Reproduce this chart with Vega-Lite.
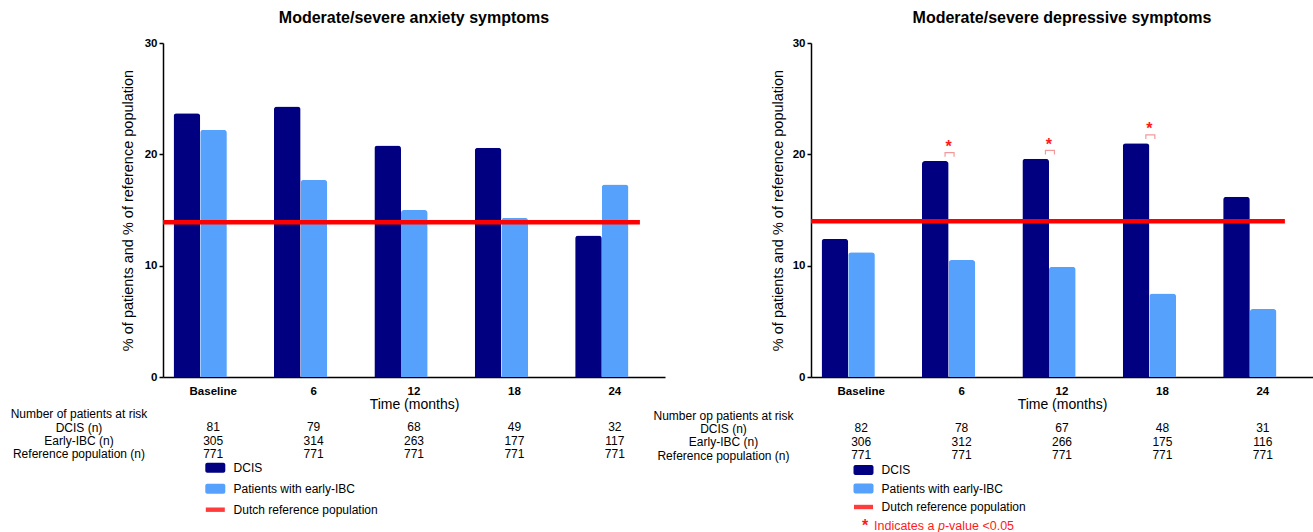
{
  "$schema": "https://vega.github.io/schema/vega-lite/v6.json",
  "padding": {"left": 10, "top": 10, "right": 0, "bottom": 0},
  "config": {
    "font": "Liberation Sans",
    "view": {"stroke": null},
    "axis": {"labelColor": "#000", "titleColor": "#000", "domainColor": "#000", "tickColor": "#000", "grid": false, "labelFont": "Liberation Sans", "titleFont": "Liberation Sans"},
    "title": {"font": "Liberation Sans", "fontSize": 16, "fontWeight": "bold", "color": "#000", "anchor": "middle"}
  },
  "datasets": {
    "anx": [
      {"time": "Baseline", "series": "DCIS", "value": 23.7},
      {"time": "Baseline", "series": "Patients with early-IBC", "value": 22.2},
      {"time": "6", "series": "DCIS", "value": 24.3},
      {"time": "6", "series": "Patients with early-IBC", "value": 17.7},
      {"time": "12", "series": "DCIS", "value": 20.8},
      {"time": "12", "series": "Patients with early-IBC", "value": 15.0},
      {"time": "18", "series": "DCIS", "value": 20.6},
      {"time": "18", "series": "Patients with early-IBC", "value": 14.3},
      {"time": "24", "series": "DCIS", "value": 12.7},
      {"time": "24", "series": "Patients with early-IBC", "value": 17.3}
    ],
    "dep": [
      {"time": "Baseline", "series": "DCIS", "value": 12.4, "sig": false},
      {"time": "Baseline", "series": "Patients with early-IBC", "value": 11.2, "sig": false},
      {"time": "6", "series": "DCIS", "value": 19.4, "sig": true},
      {"time": "6", "series": "Patients with early-IBC", "value": 10.5, "sig": false},
      {"time": "12", "series": "DCIS", "value": 19.6, "sig": true},
      {"time": "12", "series": "Patients with early-IBC", "value": 9.9, "sig": false},
      {"time": "18", "series": "DCIS", "value": 21.0, "sig": true},
      {"time": "18", "series": "Patients with early-IBC", "value": 7.5, "sig": false},
      {"time": "24", "series": "DCIS", "value": 16.2, "sig": false},
      {"time": "24", "series": "Patients with early-IBC", "value": 6.1, "sig": false}
    ],
    "anxN": [
      {"time": "Baseline", "row": "DCIS (n)", "n": 81},
      {"time": "6", "row": "DCIS (n)", "n": 79},
      {"time": "12", "row": "DCIS (n)", "n": 68},
      {"time": "18", "row": "DCIS (n)", "n": 49},
      {"time": "24", "row": "DCIS (n)", "n": 32},
      {"time": "Baseline", "row": "Early-IBC (n)", "n": 305},
      {"time": "6", "row": "Early-IBC (n)", "n": 314},
      {"time": "12", "row": "Early-IBC (n)", "n": 263},
      {"time": "18", "row": "Early-IBC (n)", "n": 177},
      {"time": "24", "row": "Early-IBC (n)", "n": 117},
      {"time": "Baseline", "row": "Reference population (n)", "n": 771},
      {"time": "6", "row": "Reference population (n)", "n": 771},
      {"time": "12", "row": "Reference population (n)", "n": 771},
      {"time": "18", "row": "Reference population (n)", "n": 771},
      {"time": "24", "row": "Reference population (n)", "n": 771}
    ],
    "depN": [
      {"time": "Baseline", "row": "DCIS (n)", "n": 82},
      {"time": "6", "row": "DCIS (n)", "n": 78},
      {"time": "12", "row": "DCIS (n)", "n": 67},
      {"time": "18", "row": "DCIS (n)", "n": 48},
      {"time": "24", "row": "DCIS (n)", "n": 31},
      {"time": "Baseline", "row": "Early-IBC (n)", "n": 306},
      {"time": "6", "row": "Early-IBC (n)", "n": 312},
      {"time": "12", "row": "Early-IBC (n)", "n": 266},
      {"time": "18", "row": "Early-IBC (n)", "n": 175},
      {"time": "24", "row": "Early-IBC (n)", "n": 116},
      {"time": "Baseline", "row": "Reference population (n)", "n": 771},
      {"time": "6", "row": "Reference population (n)", "n": 771},
      {"time": "12", "row": "Reference population (n)", "n": 771},
      {"time": "18", "row": "Reference population (n)", "n": 771},
      {"time": "24", "row": "Reference population (n)", "n": 771}
    ],
    "leg": [
      {"label": "DCIS", "kind": "bar"},
      {"label": "Patients with early-IBC", "kind": "bar"},
      {"label": "Dutch reference population", "kind": "line"}
    ]
  },
  "hconcat": [
    {
      "vconcat": [
        {
          "width": 502,
          "height": 334,
          "title": {"text": "Moderate/severe anxiety symptoms", "offset": 11},
          "layer": [
            {
              "data": {"name": "anx"},
              "mark": {"type": "bar", "cornerRadiusTopLeft": 3, "cornerRadiusTopRight": 3},
              "encoding": {
                "x": {"field": "time", "type": "ordinal", "scale": {"domain": ["Baseline", "6", "12", "18", "24"], "paddingInner": 0, "paddingOuter": 0}, "axis": {"title": "Time (months)", "labelAngle": 0, "ticks": false, "labelFontSize": 11.5, "labelFontWeight": "bold", "labelPadding": 8, "titleFontSize": 14, "titleFontWeight": "normal", "titlePadding": 1, "domainWidth": 1.5}},
                "xOffset": {"field": "series", "type": "nominal", "scale": {"domain": ["DCIS", "Patients with early-IBC"], "paddingInner": 0, "paddingOuter": 0.884, "align": 0.224}},
                "y": {"field": "value", "type": "quantitative", "title": "% of patients and % of reference population", "scale": {"domain": [0, 30]}, "axis": {"values": [0, 10, 20, 30], "titleFontSize": 14.5, "titleFontWeight": "normal", "titlePadding": 9, "labelFontSize": 11.5, "labelFontWeight": "bold", "labelPadding": 2, "tickSize": 4, "tickWidth": 1.5, "domainWidth": 1.5}},
                "color": {"field": "series", "type": "nominal", "scale": {"domain": ["DCIS", "Patients with early-IBC", "Dutch reference population"], "range": ["#000080", "#55a1fc", "#ff0000"]}, "legend": null}
              }
            },
            {
              "data": {"values": [{"ref": 13.9}]},
              "mark": {"type": "rule", "color": "#ff0000", "strokeWidth": 4.5},
              "encoding": {
                "y": {"field": "ref", "type": "quantitative", "title": "% of patients and % of reference population"},
                "x": {"datum": 0, "type": "quantitative", "scale": {"domain": [0, 1], "nice": false}, "axis": null},
                "x2": {"datum": 0.95}
              }
            }
          ],
          "resolve": {"scale": {"x": "independent"}}
        },
        {
          "width": 502,
          "height": 81,
          "data": {"name": "anxN"},
          "mark": {"type": "text", "fontSize": 12, "color": "#000"},
          "encoding": {
            "x": {"field": "time", "type": "ordinal", "scale": {"domain": ["Baseline", "6", "12", "18", "24"], "paddingInner": 0, "paddingOuter": 0}, "axis": null},
            "y": {"field": "row", "type": "ordinal", "scale": {"type": "point", "domain": ["gap1", "gap2", "Number of patients at risk", "DCIS (n)", "Early-IBC (n)", "Reference population (n)"], "padding": 0.516, "align": 0.71}, "axis": {"title": null, "values": ["Number of patients at risk", "DCIS (n)", "Early-IBC (n)", "Reference population (n)"], "domain": false, "ticks": false, "tickSize": 0, "labelAlign": "center", "labelPadding": 84.5, "labelFontSize": 12, "labelFontWeight": "normal"}},
            "text": {"field": "n", "type": "quantitative"}
          }
        },
        {
          "width": 502,
          "height": 60,
          "data": {"name": "leg"},
          "encoding": {
            "y": {"field": "label", "type": "nominal", "scale": {"type": "point", "domain": ["DCIS", "Patients with early-IBC", "Dutch reference population"], "padding": 0.4286, "align": 0.539}, "axis": null}
          },
          "layer": [
            {
              "mark": {"type": "point", "filled": true, "opacity": 1, "size": 400, "strokeWidth": 0},
              "encoding": {
                "x": {"datum": 52.3, "type": "quantitative", "scale": {"domain": [0, 502], "nice": false, "zero": false}, "axis": null},
                "shape": {"field": "kind", "type": "nominal", "scale": {"domain": ["bar", "line"], "range": ["M-0.8,-0.5H0.8A0.2,0.2,0,0,1,1,-0.3V0.3A0.2,0.2,0,0,1,0.8,0.5H-0.8A0.2,0.2,0,0,1,-1,0.3V-0.3A0.2,0.2,0,0,1,-0.8,-0.5Z", "M-0.95,-0.22H0.95V0.22H-0.95Z"]}, "legend": null},
                "color": {"field": "label", "type": "nominal", "scale": {"domain": ["DCIS", "Patients with early-IBC", "Dutch reference population"], "range": ["#000080", "#55a1fc", "#ff3b3b"]}, "legend": null}
              }
            },
            {
              "mark": {"type": "text", "align": "left", "fontSize": 12, "color": "#000"},
              "encoding": {
                "x": {"datum": 70.6, "type": "quantitative"},
                "text": {"field": "label"}
              }
            }
          ]
        }
      ],
      "spacing": 0,
      "bounds": "flush",
      "resolve": {"scale": {"x": "independent", "y": "independent", "color": "independent", "shape": "independent"}}
    },
    {
      "vconcat": [
        {
          "width": 502,
          "height": 334,
          "title": {"text": "Moderate/severe depressive symptoms", "offset": 11},
          "layer": [
            {
              "data": {"name": "dep"},
              "layer": [
                {
                  "mark": {"type": "bar", "cornerRadiusTopLeft": 3, "cornerRadiusTopRight": 3},
                  "encoding": {
                    "x": {"field": "time", "type": "ordinal", "scale": {"domain": ["Baseline", "6", "12", "18", "24"], "paddingInner": 0, "paddingOuter": 0}, "axis": {"title": "Time (months)", "labelAngle": 0, "ticks": false, "labelFontSize": 11.5, "labelFontWeight": "bold", "labelPadding": 8, "titleFontSize": 14, "titleFontWeight": "normal", "titlePadding": 1, "domainWidth": 1.5}},
                    "xOffset": {"field": "series", "type": "nominal", "scale": {"domain": ["DCIS", "Patients with early-IBC"], "paddingInner": 0, "paddingOuter": 0.884, "align": 0.224}},
                    "y": {"field": "value", "type": "quantitative", "title": "% of patients and % of reference population", "scale": {"domain": [0, 30]}, "axis": {"values": [0, 10, 20, 30], "titleFontSize": 14.5, "titleFontWeight": "normal", "titlePadding": 7, "labelFontSize": 11.5, "labelFontWeight": "bold", "labelPadding": 2, "tickSize": 4, "tickWidth": 1.5, "domainWidth": 1.5}},
                    "color": {"field": "series", "type": "nominal", "scale": {"domain": ["DCIS", "Patients with early-IBC", "Dutch reference population"], "range": ["#000080", "#55a1fc", "#ff0000"]}, "legend": null}
                  }
                },
                {
                  "transform": [{"filter": "datum.sig"}],
                  "mark": {"type": "point", "shape": "M-1,0.45V-0.45H1V0.45", "filled": false, "size": 81, "stroke": "#f29a9a", "strokeWidth": 1.2, "opacity": 1, "yOffset": -6.3},
                  "encoding": {
                    "x": {"field": "time", "type": "ordinal", "bandPosition": 0.38},
                    "y": {"field": "value", "type": "quantitative", "title": "% of patients and % of reference population"}
                  }
                },
                {
                  "transform": [{"filter": "datum.sig"}],
                  "mark": {"type": "text", "text": "*", "color": "#ff1a1a", "fontSize": 16, "fontWeight": "bold", "baseline": "alphabetic", "dy": -9},
                  "encoding": {
                    "x": {"field": "time", "type": "ordinal", "bandPosition": 0.37},
                    "y": {"field": "value", "type": "quantitative", "title": "% of patients and % of reference population"}
                  }
                }
              ]
            },
            {
              "data": {"values": [{"ref": 14.0}]},
              "mark": {"type": "rule", "color": "#ff0000", "strokeWidth": 4.5},
              "encoding": {
                "y": {"field": "ref", "type": "quantitative", "title": "% of patients and % of reference population"},
                "x": {"datum": 0, "type": "quantitative", "scale": {"domain": [0, 1], "nice": false}, "axis": null},
                "x2": {"datum": 0.944}
              }
            }
          ],
          "resolve": {"scale": {"x": "independent"}}
        },
        {
          "width": 502,
          "height": 82,
          "data": {"name": "depN"},
          "mark": {"type": "text", "fontSize": 12, "color": "#000"},
          "encoding": {
            "x": {"field": "time", "type": "ordinal", "scale": {"domain": ["Baseline", "6", "12", "18", "24"], "paddingInner": 0, "paddingOuter": 0}, "axis": null},
            "y": {"field": "row", "type": "ordinal", "scale": {"type": "point", "domain": ["gap1", "gap2", "Number op patients at risk", "DCIS (n)", "Early-IBC (n)", "Reference population (n)"], "padding": 0.544, "align": 0.755}, "axis": {"title": null, "values": ["Number op patients at risk", "DCIS (n)", "Early-IBC (n)", "Reference population (n)"], "domain": false, "ticks": false, "tickSize": 0, "labelAlign": "center", "labelPadding": 88, "labelFontSize": 12, "labelFontWeight": "normal"}},
            "text": {"field": "n", "type": "quantitative"}
          }
        },
        {
          "width": 502,
          "height": 80,
          "data": {"name": "leg"},
          "encoding": {
            "y": {"field": "label", "type": "nominal", "scale": {"type": "point", "domain": ["DCIS", "Patients with early-IBC", "Dutch reference population", "note"], "padding": 0.662, "align": 0.449}, "axis": null}
          },
          "layer": [
            {
              "mark": {"type": "point", "filled": true, "opacity": 1, "size": 400, "strokeWidth": 0},
              "encoding": {
                "x": {"datum": 52.5, "type": "quantitative", "scale": {"domain": [0, 502], "nice": false, "zero": false}, "axis": null},
                "shape": {"field": "kind", "type": "nominal", "scale": {"domain": ["bar", "line"], "range": ["M-0.8,-0.5H0.8A0.2,0.2,0,0,1,1,-0.3V0.3A0.2,0.2,0,0,1,0.8,0.5H-0.8A0.2,0.2,0,0,1,-1,0.3V-0.3A0.2,0.2,0,0,1,-0.8,-0.5Z", "M-0.95,-0.22H0.95V0.22H-0.95Z"]}, "legend": null},
                "color": {"field": "label", "type": "nominal", "scale": {"domain": ["DCIS", "Patients with early-IBC", "Dutch reference population"], "range": ["#000080", "#55a1fc", "#ff3b3b"]}, "legend": null}
              }
            },
            {
              "mark": {"type": "text", "align": "left", "fontSize": 12, "color": "#000"},
              "encoding": {
                "x": {"datum": 70.6, "type": "quantitative"},
                "text": {"field": "label"}
              }
            },
            {
              "data": {"values": [{"note": "*"}]},
              "mark": {"type": "text", "align": "center", "baseline": "middle", "fontSize": 16, "fontWeight": "bold", "color": "#ff1a1a", "dy": 0},
              "encoding": {
                "x": {"datum": 54, "type": "quantitative"},
                "y": {"datum": "note", "type": "nominal"},
                "text": {"field": "note"}
              }
            },
            {
              "data": {"values": [{"note": "Indicates a"}]},
              "mark": {"type": "text", "align": "left", "baseline": "middle", "fontSize": 12.5, "color": "#ff1a1a"},
              "encoding": {
                "x": {"datum": 63, "type": "quantitative"},
                "y": {"datum": "note", "type": "nominal"},
                "text": {"field": "note"}
              }
            },
            {
              "data": {"values": [{"note": "p"}]},
              "mark": {"type": "text", "align": "left", "baseline": "middle", "fontSize": 12.5, "fontStyle": "italic", "color": "#ff1a1a"},
              "encoding": {
                "x": {"datum": 126.9, "type": "quantitative"},
                "y": {"datum": "note", "type": "nominal"},
                "text": {"field": "note"}
              }
            },
            {
              "data": {"values": [{"note": "-value <0.05"}]},
              "mark": {"type": "text", "align": "left", "baseline": "middle", "fontSize": 12.5, "color": "#ff1a1a"},
              "encoding": {
                "x": {"datum": 133.9, "type": "quantitative"},
                "y": {"datum": "note", "type": "nominal"},
                "text": {"field": "note"}
              }
            }
          ]
        }
      ],
      "spacing": 0,
      "bounds": "flush",
      "resolve": {"scale": {"x": "independent", "y": "independent", "color": "independent", "shape": "independent"}}
    }
  ],
  "spacing": -13,
  "resolve": {"scale": {"x": "independent", "y": "independent", "color": "independent", "shape": "independent"}}
}
